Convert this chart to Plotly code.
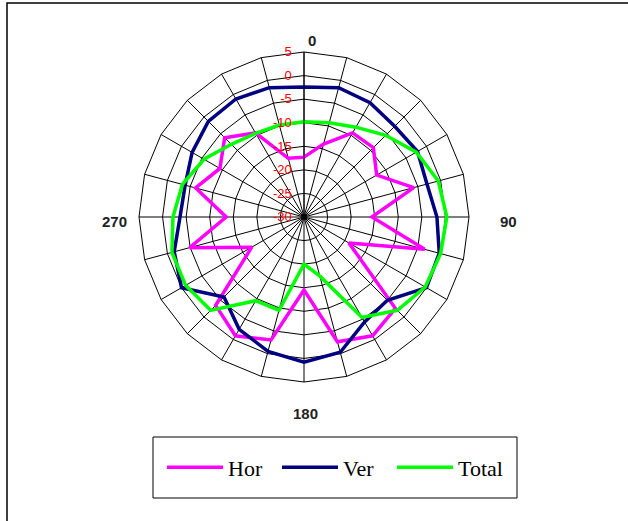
import plotly.graph_objects as go

# Category angles (degrees, clockwise from top)
angles = ["0", "15", "30", "45", "60", "75", "90", "105", "120", "135", "150", "165",
          "180", "195", "210", "225", "240", "255", "270", "285", "300", "315", "330", "345"]
# Angular labels shown outside the plot
axis_labels = ["0", "90", "180", "270"]
# Radial tick values and labels
r_ticks = [-30, -25, -20, -15, -10, -5, 0, 5]
r_ticklabels = ["-30", "-25", "-20", "-15", "-10", "-5", "0", "5"]

hor = [-17.3, -14.0, -9.4, -9.2, -12.2, -5.9, -15.6, -3.5, -19.0, -2.6, -0.9, -2.6,
       -14.5, -3.0, -0.9, -3.5, -17.2, -4.9, -13.5, -6.2, -9.4, -6.2, -9.4, -17.1]
ver = [-2.4, -1.6, -2.0, -2.8, -2.2, -3.0, -1.8, -0.3, 0.0, -5.0, -4.3, -0.3,
       0.8, -0.5, -2.5, -6.0, 0.0, -1.5, -3.7, -3.9, -2.6, -1.3, -1.1, -1.6]
total = [-9.8, -9.3, -8.0, -5.5, -2.5, -0.5, 0.3, 0.0, -0.3, -2.0, -5.4, -17.0,
         -20.0, -9.5, -9.5, -2.0, -1.0, -1.0, -2.2, -3.3, -5.5, -8.2, -9.5, -9.8]

series = [("Hor", hor, "#FF00FF"), ("Ver", ver, "#000080"), ("Total", total, "#00FF00")]


def closed(v):
    return list(v) + list(v[:1])


# small gap between the radial labels and the axis line
r_ticktext = [t + "\u00a0\u00a0" for t in r_ticklabels]

fig = go.Figure()
for name, vals, color in series:
    fig.add_trace(go.Scatterpolar(
        r=closed(vals), theta=closed(angles), mode="lines", name=name,
        line=dict(color=color, width=3.5)))

W, H = 628, 521
cx, cy, R = 304, 217, 165

label_pos = [(312, 40), (508, 222), (305, 413), (115, 222)]
annotations = [
    dict(text=t, x=px / W, y=(H - py) / H, xref="paper", yref="paper",
         xanchor="center", yanchor="middle", showarrow=False,
         font=dict(family="Arial", size=15, color="#222222", weight="bold"))
    for t, (px, py) in zip(axis_labels, label_pos)
]

fig.update_layout(
    width=W, height=H,
    margin=dict(l=0, r=0, t=0, b=0),
    paper_bgcolor="white",
    showlegend=True,
    polar=dict(
        domain=dict(x=[(cx - R) / W, (cx + R) / W], y=[(H - cy - R) / H, (H - cy + R) / H]),
        bgcolor="white",
        gridshape="linear",
        angularaxis=dict(
            type="category", categoryarray=angles, direction="clockwise", rotation=90,
            showticklabels=False,
            showline=True, linecolor="black", linewidth=1,
            showgrid=True, gridcolor="black", gridwidth=1, ticks="",
        ),
        radialaxis=dict(
            range=[-30, 5], tickmode="array", tickvals=r_ticks, ticktext=r_ticktext, angle=90,
            showline=True, linecolor="black", linewidth=1,
            showgrid=True, gridcolor="black", gridwidth=1, ticks="",
            tickangle=90, side="counterclockwise",
            tickfont=dict(family="Arial", size=13, color="red"),
        ),
    ),
    legend=dict(
        orientation="h", x=162 / W, xanchor="left", y=(H - 467.5) / H, yanchor="middle",
        font=dict(family="Liberation Serif", size=22, color="black"),
        bgcolor="rgba(0,0,0,0)", itemwidth=56,
        entrywidth=44, entrywidthmode="pixels",
    ),
    annotations=annotations,
    shapes=[
        dict(type="rect", xref="paper", yref="paper",
             x0=7 / W, x1=1.02, y0=-0.02, y1=(H - 3) / H,
             line=dict(color="black", width=1.5), fillcolor="rgba(0,0,0,0)", layer="below"),
        dict(type="rect", xref="paper", yref="paper",
             x0=153 / W, x1=517 / W, y0=(H - 498) / H, y1=(H - 437) / H,
             line=dict(color="black", width=1), fillcolor="rgba(0,0,0,0)"),
    ],
)

fig.write_html("out.html", config={"displayModeBar": False},
               post_script="document.body.style.margin='0';")
